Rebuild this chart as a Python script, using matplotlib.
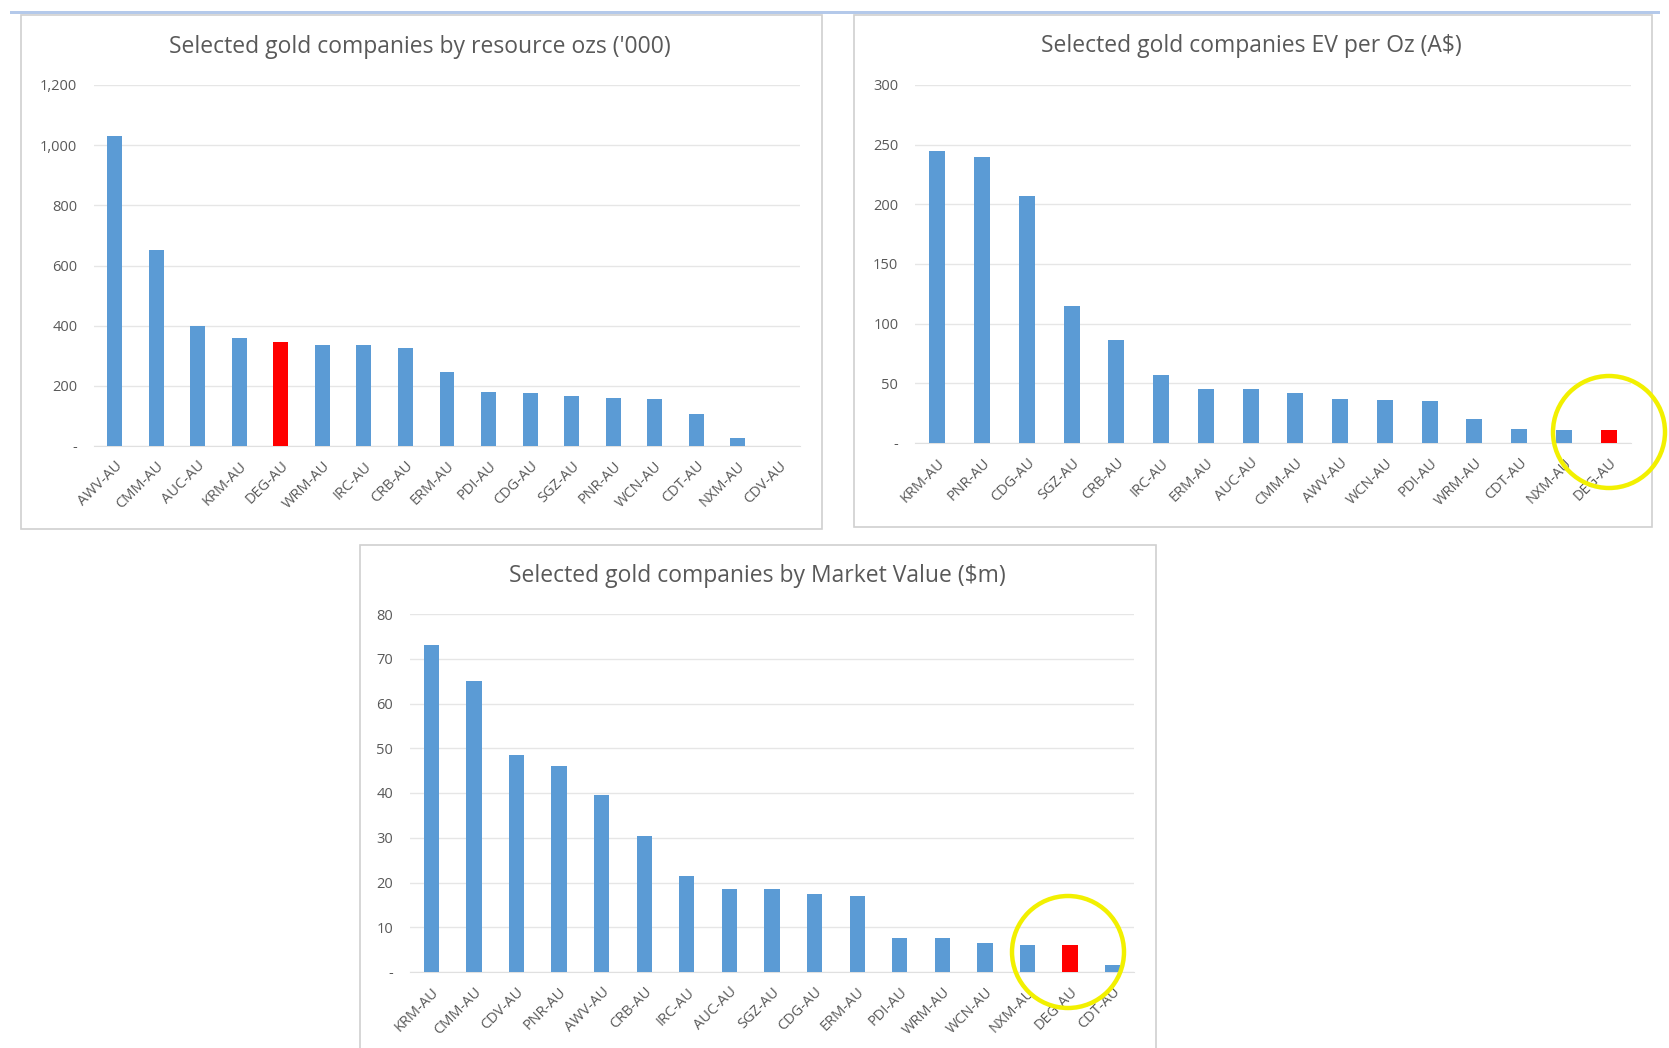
import matplotlib.pyplot as plt
from matplotlib.patches import Rectangle, Ellipse
from matplotlib.ticker import FuncFormatter

W, H = 1669, 1048

# chart 1: resource ozs ('000)
res_names = ["AWV-AU", "CMM-AU", "AUC-AU", "KRM-AU", "DEG-AU", "WRM-AU", "IRC-AU", "CRB-AU",
             "ERM-AU", "PDI-AU", "CDG-AU", "SGZ-AU", "PNR-AU", "WCN-AU", "CDT-AU", "NXM-AU", "CDV-AU"]
res_vals = [1030, 650, 400, 360, 345, 335, 335, 325, 245, 180, 175, 165, 160, 155, 108, 25, 0]

# chart 2: EV per oz (A$)
ev_names = ["KRM-AU", "PNR-AU", "CDG-AU", "SGZ-AU", "CRB-AU", "IRC-AU", "ERM-AU", "AUC-AU",
            "CMM-AU", "AWV-AU", "WCN-AU", "PDI-AU", "WRM-AU", "CDT-AU", "NXM-AU", "DEG-AU"]
ev_vals = [245, 240, 207, 115, 86, 57, 45, 45, 42, 37, 36, 35, 20, 12, 11, 11]

# chart 3: market value ($m)
mv_names = ["KRM-AU", "CMM-AU", "CDV-AU", "PNR-AU", "AWV-AU", "CRB-AU", "IRC-AU", "AUC-AU",
            "SGZ-AU", "CDG-AU", "ERM-AU", "PDI-AU", "WRM-AU", "WCN-AU", "NXM-AU", "DEG-AU", "CDT-AU"]
mv_vals = [73, 65, 48.5, 46, 39.5, 30.5, 21.5, 18.5, 18.5, 17.5, 17, 7.5, 7.5, 6.5, 6, 6, 1.5]

BLUE = '#5b9bd5'
RED = '#ff0000'
GREY = '#595959'

plt.rcParams['font.family'] = ['Open Sans', 'DejaVu Sans']

fig = plt.figure(figsize=(W / 100, H / 100), dpi=100, facecolor='white')


def px_box(x0, y0, x1, y1):
    # pixel box (top-left origin) -> figure fraction
    return [x0 / W, 1 - y1 / H, (x1 - x0) / W, (y1 - y0) / H]


def frame(x0, y0, x1, y1):
    fig.patches.append(Rectangle((x0 / W, 1 - y1 / H), (x1 - x0) / W, (y1 - y0) / H,
                                 transform=fig.transFigure, facecolor='none',
                                 edgecolor='#d0d0d0', lw=1.2, zorder=-1))


def yfmt(v, pos):
    if v == 0:
        return '-'
    return f"{int(v):,}"


def bar_chart(box, names, vals, ymax, step, title, title_xy):
    ax = fig.add_axes(px_box(*box))
    colors = [RED if n == "DEG-AU" else BLUE for n in names]
    ax.bar(range(len(names)), vals, width=0.36, color=colors, zorder=3)
    ax.set_xlim(-0.5, len(names) - 0.5)
    ax.set_ylim(0, ymax)
    ax.set_yticks(range(0, ymax + 1, step))
    ax.yaxis.set_major_formatter(FuncFormatter(yfmt))
    ax.set_xticks(range(len(names)))
    ax.set_xticklabels(names, rotation=45, ha='right', rotation_mode='anchor')
    ax.tick_params(axis='both', length=0, labelsize=10.5, labelcolor=GREY)
    ax.tick_params(axis='x', pad=9)
    ax.tick_params(axis='y', pad=12)
    ax.grid(axis='y', color='#e6e6e6', lw=1, zorder=0)
    for s in ['top', 'right', 'left']:
        ax.spines[s].set_visible(False)
    ax.spines['bottom'].set_color('#e0e0e0')
    ax.set_facecolor('none')
    fig.text(title_xy[0] / W, 1 - title_xy[1] / H, title, ha='center', va='center',
             fontsize=16.5, color=GREY)
    return ax


# top blue strip
fig.patches.append(Rectangle((10 / W, 1 - 14 / H), 1650 / W, 2.5 / H, transform=fig.transFigure,
                             facecolor='#b4c9ea', edgecolor='none', zorder=-1))

frame(21, 15, 822, 529)
frame(854, 15, 1652, 527)
frame(360, 545, 1156, 1060)

bar_chart((94, 85, 800, 446), res_names, res_vals, 1200, 200,
          "Selected gold companies by resource ozs ('000)", (420, 47))
bar_chart((915, 85, 1631, 443), ev_names, ev_vals, 300, 50,
          "Selected gold companies EV per Oz (A$)", (1251, 46))
bar_chart((410, 614, 1134, 972), mv_names, mv_vals, 80, 10,
          "Selected gold companies by Market Value ($m)", (757, 576))

# yellow highlight circles
for cx, cy, r in [(1609, 432, 56), (1068, 952, 56)]:
    fig.patches.append(Ellipse((cx / W, 1 - cy / H), 2 * r / W, 2 * r / H,
                               transform=fig.transFigure, facecolor='none',
                               edgecolor='#f2f000', lw=3.2, zorder=10))

fig.savefig("out.png", dpi=100, facecolor='white')
